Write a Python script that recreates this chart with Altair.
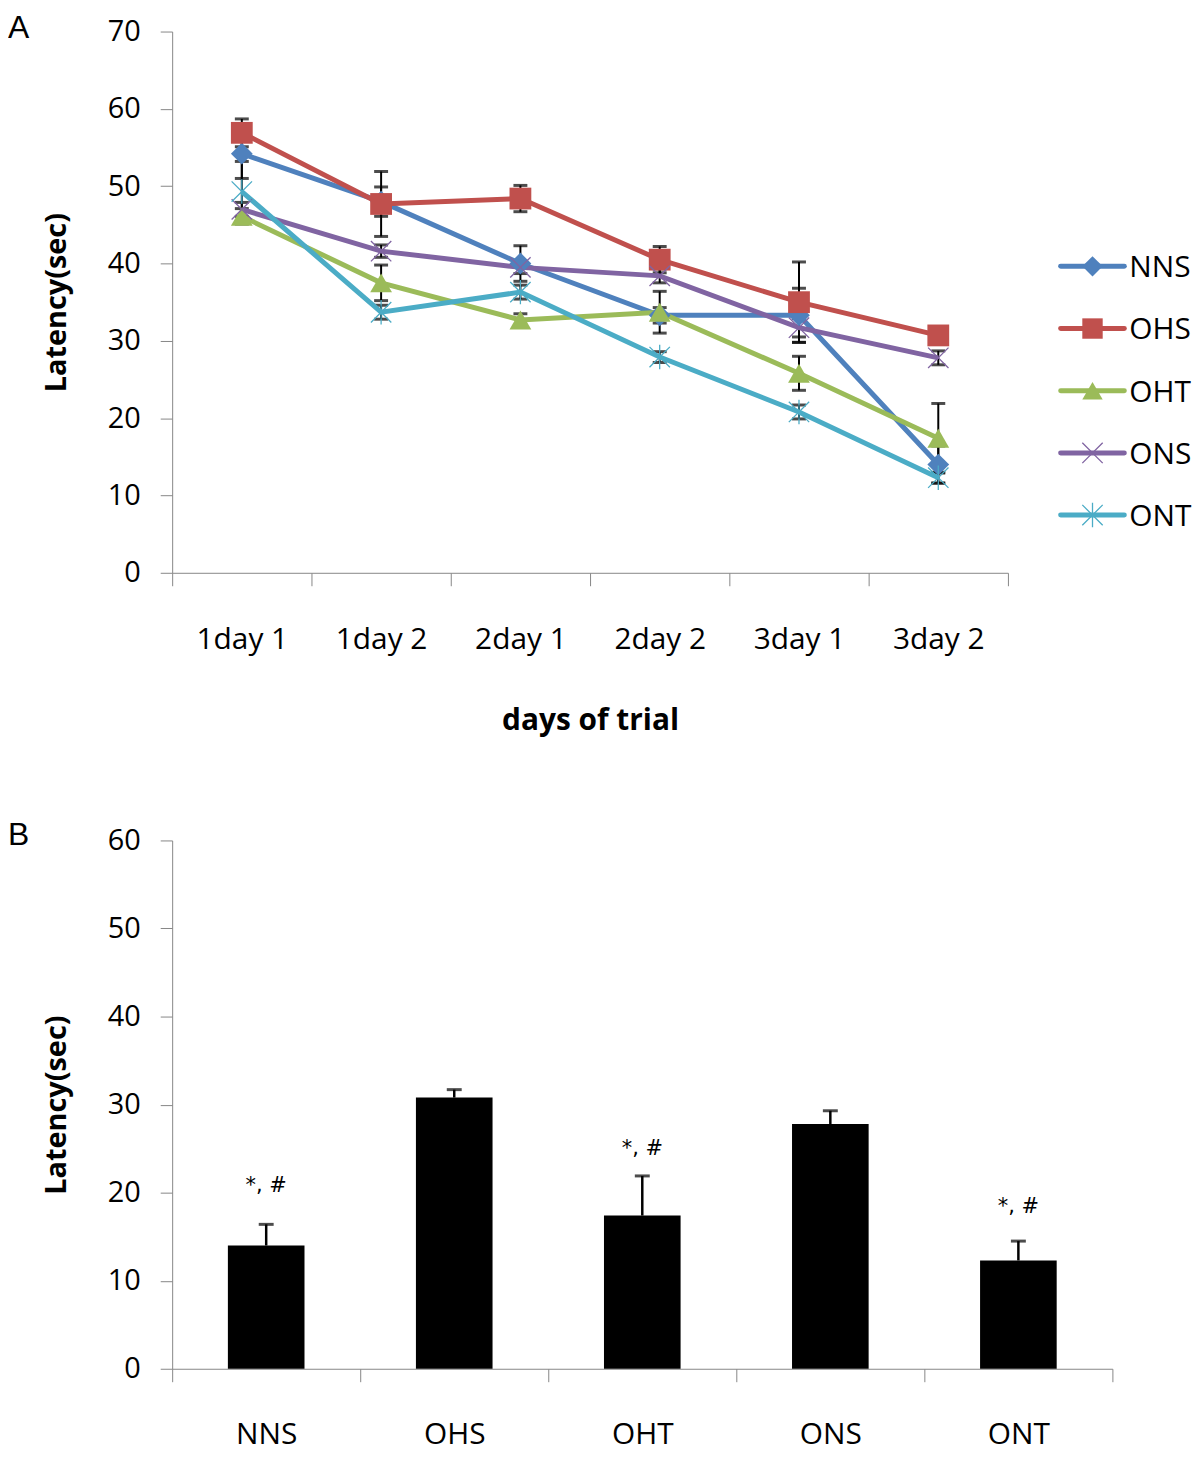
import altair as alt
import pandas as pd

# ---------------- Panel A data ----------------
days = ["1day 1", "1day 2", "2day 1", "2day 2", "3day 1", "3day 2"]
series_names = ["NNS", "OHS", "OHT", "ONS", "ONT"]
series_colors = ["#4F81BD", "#C0504D", "#9BBB59", "#8064A2", "#4BACC6"]

nns = [54.2, 48.0, 40.0, 33.3, 33.3, 14.0]
ohs = [56.9, 47.7, 48.4, 40.5, 35.0, 30.7]
oht = [46.1, 37.5, 32.7, 33.7, 25.8, 17.4]
ons = [47.0, 41.6, 39.5, 38.4, 31.7, 27.8]
ont = [49.3, 33.7, 36.3, 27.9, 20.8, 12.3]

nns_err = [3.2, 1.9, 2.3, 1.0, 3.5, 2.4]
ohs_err = [1.8, 4.2, 1.7, 1.7, 5.2, 1.0]
oht_err = [1.0, 2.3, 0.8, 2.7, 2.2, 4.5]
ons_err = [0.9, 0.8, 0.8, 0.9, 1.2, 0.9]
ont_err = [3.9, 0.9, 0.9, 0.7, 0.9, 0.7]

# ---------------- Panel B data ----------------
groups = ["NNS", "OHS", "OHT", "ONS", "ONT"]
bar_means = [14.0, 30.8, 17.4, 27.8, 12.3]
bar_errs = [2.4, 0.9, 4.5, 1.5, 2.2]
sig_labels = ["*, #", "", "*, #", "", "*, #"]
sig_label_y = [20.8, None, 25.0, None, 18.4]

# ---------------- build tables ----------------
vals = {"NNS": nns, "OHS": ohs, "OHT": oht, "ONS": ons, "ONT": ont}
errs = {"NNS": nns_err, "OHS": ohs_err, "OHT": oht_err, "ONS": ons_err, "ONT": ont_err}
rows = []
for s in series_names:
    for d, v, e in zip(days, vals[s], errs[s]):
        rows.append({"series": s, "day": d, "value": v, "lo": v - e, "hi": v + e})
dfa = pd.DataFrame(rows)

dfb = pd.DataFrame({
    "group": groups, "mean": bar_means,
    "hi": [m + e for m, e in zip(bar_means, bar_errs)],
    "label": sig_labels, "label_y": sig_label_y,
})

FONT = "Open Sans"
GRAY = "#868686"

x_shape_path = "M-1,-1L1,1M-1,1L1,-1"
ast_path = "M-1,-1L1,1M-1,1L1,-1M0,-1.2L0,1.2"
shape_range = ["diamond", "square", "triangle-up", x_shape_path, ast_path]

color_scale = alt.Scale(domain=series_names, range=series_colors)
shape_scale = alt.Scale(domain=series_names, range=shape_range)

xa = alt.X(
    "day:O", sort=days, title="days of trial",
    scale=alt.Scale(type="band", domain=days, paddingInner=0, paddingOuter=0),
    axis=alt.Axis(labelAngle=0, tickBand="extent", tickSize=13, labelPadding=39,
                  labelFontSize=30, titleFontSize=30, titleFontWeight="bold",
                  titlePadding=51, domainColor=GRAY, tickColor=GRAY),
)
ya_axis = alt.Axis(values=list(range(0, 71, 10)), tickSize=12, labelPadding=20,
                   labelFontSize=29, titleFontSize=29, titleFontWeight="bold",
                   titlePadding=36, grid=False, domainColor=GRAY, tickColor=GRAY)
ya_scale = alt.Scale(domain=[0, 70], nice=False)

base_a = alt.Chart(dfa)

err_rule = base_a.mark_rule(color="black", strokeWidth=2).encode(
    x=xa, y=alt.Y("lo:Q", scale=ya_scale, axis=ya_axis, title="Latency(sec)"), y2="hi:Q")
cap_lo = base_a.mark_tick(color="black", size=14, thickness=3, orient="horizontal").encode(
    x=xa, y=alt.Y("lo:Q", scale=ya_scale))
cap_hi = base_a.mark_tick(color="black", size=14, thickness=3, orient="horizontal").encode(
    x=xa, y=alt.Y("hi:Q", scale=ya_scale))
lines = base_a.mark_line(strokeWidth=5).encode(
    x=xa, y=alt.Y("value:Q", scale=ya_scale),
    color=alt.Color("series:N", scale=color_scale, legend=None),
    detail="series:N",
)
pts_filled = base_a.transform_filter(
    alt.FieldOneOfPredicate(field="series", oneOf=["NNS", "OHS", "OHT"])
).mark_point(filled=True, opacity=1, size=480).encode(
    x=xa, y=alt.Y("value:Q", scale=ya_scale),
    color=alt.Color("series:N", scale=color_scale, legend=None),
    shape=alt.Shape("series:N", scale=shape_scale, legend=None),
)
pts_stroked = base_a.transform_filter(
    alt.FieldOneOfPredicate(field="series", oneOf=["ONS", "ONT"])
).mark_point(filled=False, opacity=1, size=420, strokeWidth=1.3).encode(
    x=xa, y=alt.Y("value:Q", scale=ya_scale),
    color=alt.Color("series:N", scale=color_scale, legend=None),
    shape=alt.Shape("series:N", scale=shape_scale, legend=None),
)
label_a = alt.Chart(pd.DataFrame({"t": ["A"]})).mark_text(
    font="Liberation Sans", fontSize=32, align="left", baseline="top"
).encode(x=alt.value(-165), y=alt.value(-19), text="t:N")

chart_a = alt.layer(err_rule, cap_lo, cap_hi, lines, pts_filled, pts_stroked, label_a).properties(
    width=840, height=544)

# ---------------- legend ----------------
dfl = pd.DataFrame({"series": series_names})
leg_y = alt.Y("series:N", scale=alt.Scale(type="point", domain=series_names, range=[236, 486],
                                          padding=0), axis=None)
leg_base = alt.Chart(dfl)
leg_line = leg_base.mark_rule(strokeWidth=5, strokeCap="round").encode(
    x=alt.value(2), x2=alt.value(66), y=leg_y,
    color=alt.Color("series:N", scale=color_scale, legend=None))
leg_fill = leg_base.transform_filter(
    alt.FieldOneOfPredicate(field="series", oneOf=["NNS", "OHS", "OHT"])
).mark_point(filled=True, opacity=1, size=420).encode(
    x=alt.value(34), y=leg_y,
    color=alt.Color("series:N", scale=color_scale, legend=None),
    shape=alt.Shape("series:N", scale=shape_scale, legend=None))
leg_str = leg_base.transform_filter(
    alt.FieldOneOfPredicate(field="series", oneOf=["ONS", "ONT"])
).mark_point(filled=False, opacity=1, size=420, strokeWidth=1.3).encode(
    x=alt.value(34), y=leg_y,
    color=alt.Color("series:N", scale=color_scale, legend=None),
    shape=alt.Shape("series:N", scale=shape_scale, legend=None))
leg_text = leg_base.mark_text(font=FONT, fontSize=30, align="left", baseline="middle", dy=2).encode(
    x=alt.value(71), y=leg_y, text="series:N")
legend_chart = alt.layer(leg_line, leg_fill, leg_str, leg_text).properties(width=130, height=544)

top_row = alt.hconcat(chart_a, legend_chart, spacing=49)

# ---------------- Panel B ----------------
xb = alt.X(
    "group:O", sort=groups, title=None,
    scale=alt.Scale(type="band", domain=groups, paddingInner=0, paddingOuter=0),
    axis=alt.Axis(labelAngle=0, tickBand="extent", tickSize=13, labelPadding=38,
                  labelFontSize=30, domainColor=GRAY, tickColor=GRAY),
)
yb_scale = alt.Scale(domain=[0, 60], nice=False)
yb_axis = alt.Axis(values=list(range(0, 61, 10)), tickSize=12, labelPadding=20,
                   labelFontSize=29, titleFontSize=29, titleFontWeight="bold",
                   titlePadding=36, grid=False, domainColor=GRAY, tickColor=GRAY)
base_b = alt.Chart(dfb)
bars = base_b.mark_bar(color="black", size=77).encode(
    x=xb, y=alt.Y("mean:Q", scale=yb_scale, axis=yb_axis, title="Latency(sec)"))
b_rule = base_b.mark_rule(color="black", strokeWidth=2.5).encode(
    x=xb, y=alt.Y("mean:Q", scale=yb_scale), y2="hi:Q")
b_cap = base_b.mark_tick(color="black", size=15, thickness=3, orient="horizontal").encode(
    x=xb, y=alt.Y("hi:Q", scale=yb_scale))
b_text = base_b.transform_filter("datum.label != ''").mark_text(
    font="DejaVu Sans", fontSize=21, baseline="middle").encode(
    x=xb, y=alt.Y("label_y:Q", scale=yb_scale), text="label:N")
label_b = alt.Chart(pd.DataFrame({"t": ["B"]})).mark_text(
    font="Liberation Sans", fontSize=32, align="left", baseline="top"
).encode(x=alt.value(-165), y=alt.value(-20), text="t:N")

chart_b = alt.layer(bars, b_rule, b_cap, b_text, label_b).properties(width=945, height=531)

chart = alt.vconcat(top_row, chart_b, spacing=85).properties(
    padding={"left": 0, "top": 0, "right": 0, "bottom": 0}
).configure_view(stroke=None).configure_axis(
    labelFont=FONT, titleFont=FONT, labelColor="black", titleColor="black"
)

chart.save("out.html", embed_options={"renderer": "svg", "actions": False})
